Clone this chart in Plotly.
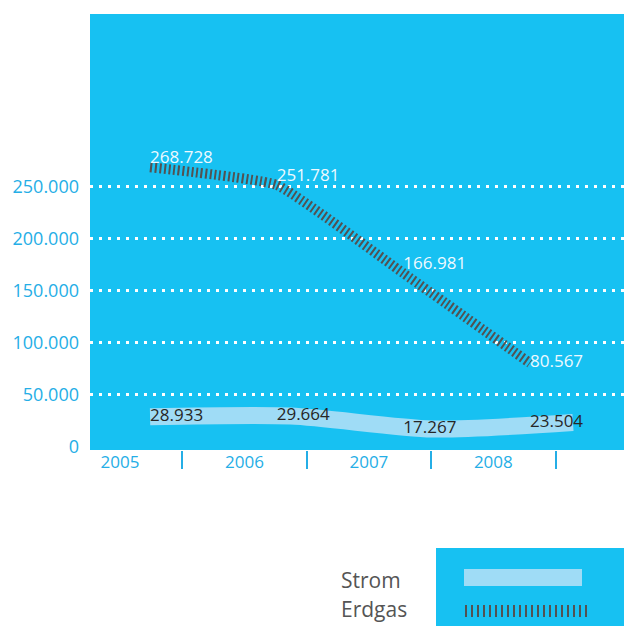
import plotly.graph_objects as go

# ---- data ----
years = ["2005", "2006", "2007", "2008"]
strom = [28933, 29664, 17267, 23504]
erdgas = [268728, 251781, 166981, 80567]
y_ticks = [0, 50000, 100000, 150000, 200000, 250000]

def de(v):
    return f"{v:,}".replace(",", ".")

strom_lbl = [de(v) for v in strom]
erdgas_lbl = [de(v) for v in erdgas]
y_tick_lbl = [de(v) for v in y_ticks]

# ---- styles ----
CYAN = "#17c1f2"
AXIS_TXT = "#25aee6"
STROM_C = "#9fdcf6"
ERDGAS_C = "#525252"
FONT = "Open Sans"

W, H = 624, 626
L, R, T, B = 90, 0, 14, 176
PW, PH = W - L - R, H - T - B

def px(x):
    return (x - L) / PW

def py(y):
    return (H - B - y) / PH

idx = list(range(len(years)))

fig = go.Figure()
# Strom line (own overlay axis x2)
fig.add_trace(go.Scatter(
    x=idx, y=strom, xaxis="x2", yaxis="y", mode="lines",
    line=dict(color=STROM_C, width=17, shape="spline", smoothing=0.7),
    hoverinfo="skip", showlegend=False))
# Erdgas line + labels (axis x3)
fig.add_trace(go.Scatter(
    x=idx, y=erdgas, xaxis="x3", yaxis="y", mode="lines+text",
    text=erdgas_lbl,
    textposition=["top right", "top right", "top right", "middle right"],
    textfont=dict(color="#eef9ff", size=17, family=FONT),
    line=dict(color=ERDGAS_C, width=10, dash="2px,2.6px", shape="spline", smoothing=0.35),
    hoverinfo="skip", showlegend=False))
# Strom labels
fig.add_trace(go.Scatter(
    x=idx, y=strom, xaxis="x3", yaxis="y", mode="text",
    text=strom_lbl, textposition="middle right",
    textfont=dict(color="#262626", size=17, family=FONT),
    hoverinfo="skip", showlegend=False))
# category axis holder
fig.add_trace(go.Scatter(x=idx, y=[None]*4, xaxis="x", yaxis="y", mode="markers",
                         showlegend=False, hoverinfo="skip"))

shapes = [
    dict(type="rect", xref="paper", yref="paper", x0=px(436), x1=px(624), y0=py(626), y1=py(548),
         fillcolor=CYAN, line=dict(width=0), layer="below"),
    dict(type="rect", xref="paper", yref="paper", x0=px(464), x1=px(582), y0=py(586), y1=py(569),
         fillcolor=STROM_C, line=dict(width=0)),
    dict(type="line", xref="paper", yref="paper", x0=px(465), x1=px(587), y0=py(611), y1=py(611),
         line=dict(color=ERDGAS_C, width=12, dash="2px,4px")),
]
annotations = [
    dict(text="Strom", xref="paper", yref="paper", x=px(339), y=py(580), xanchor="left", yanchor="middle",
         showarrow=False, font=dict(size=21, color="#555555", family=FONT)),
    dict(text="Erdgas", xref="paper", yref="paper", x=px(339), y=py(609), xanchor="left", yanchor="middle",
         showarrow=False, font=dict(size=21, color="#555555", family=FONT)),
]

fig.update_layout(
    width=W, height=H,
    margin=dict(l=L, r=R, t=T, b=B),
    paper_bgcolor="white", plot_bgcolor=CYAN,
    font=dict(family=FONT),
    shapes=shapes, annotations=annotations,
    xaxis=dict(range=[-0.241, 4.05], tickmode="array", tickvals=idx, ticktext=years,
               showgrid=False, zeroline=False, showline=False, ticks="",
               tickfont=dict(size=17, color=AXIS_TXT, family=FONT),
               minor=dict(tickmode="array", tickvals=[0.5, 1.5, 2.5, 3.5], ticks="outside",
                          ticklen=18, tickwidth=2, tickcolor=AXIS_TXT, showgrid=False),
               fixedrange=True),
    xaxis2=dict(overlaying="x", anchor="y", visible=False, range=[-0.426, 3.362]),
    xaxis3=dict(overlaying="x", anchor="y", visible=False, range=[-0.474, 3.742]),
    yaxis=dict(range=[-2900, 416000], tickmode="array", tickvals=y_ticks, ticktext=y_tick_lbl,
               showgrid=False, zeroline=False, showline=False, ticks="",
               ticklabelstandoff=10,
               tickfont=dict(size=18, color=AXIS_TXT, family=FONT),
               minor=dict(tickmode="array", tickvals=y_ticks[1:], showgrid=True,
                          gridcolor="white", gridwidth=3, griddash="3px,6px"),
               fixedrange=True),
)

fig.write_html(
    "out.html",
    config={"displayModeBar": False},
    post_script="document.body.style.margin='0';document.body.style.overflow='hidden';",
)
